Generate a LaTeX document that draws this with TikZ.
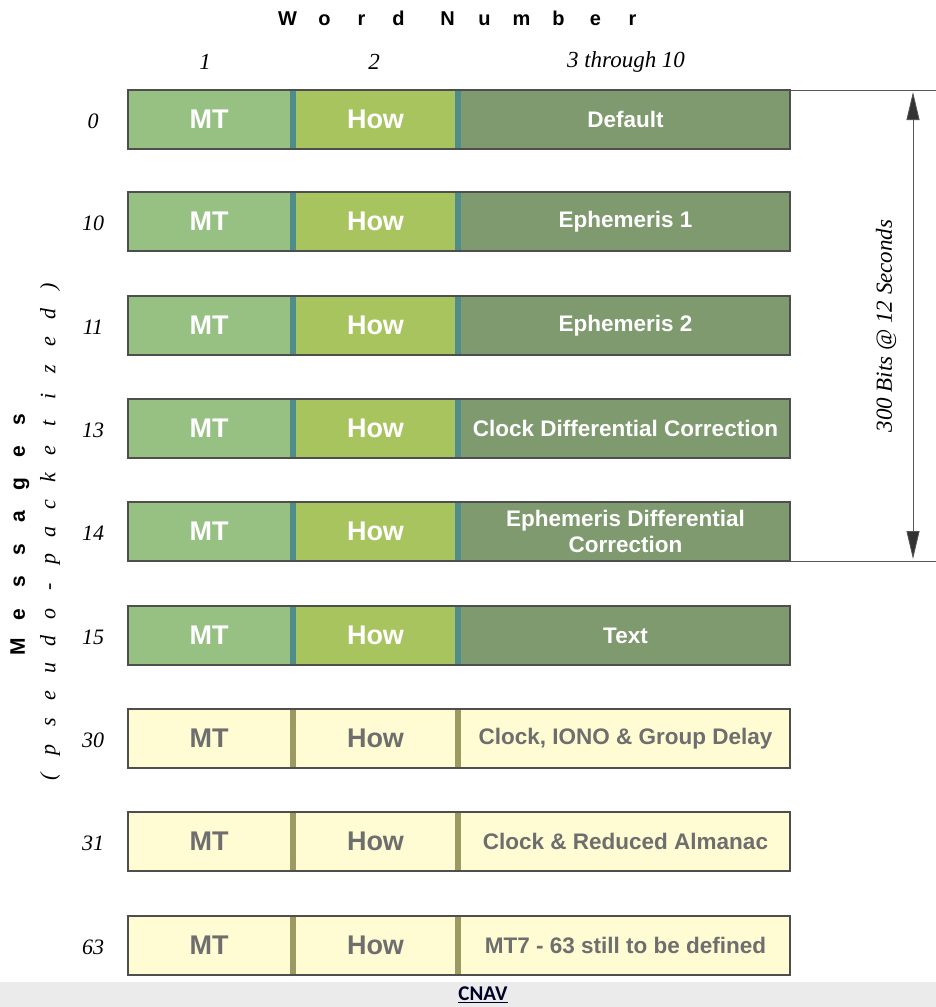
\documentclass[tikz,border=0pt]{standalone}
\usepackage{fontspec}
\setmainfont{Liberation Serif}
\newfontfamily\hv{Liberation Sans}
\newfontfamily\cb{Carlito}
\usetikzlibrary{arrows.meta}
\definecolor{hi-mt}{HTML}{97C183}
\definecolor{hi-how}{HTML}{A8C45E}
\definecolor{hi-body}{HTML}{7E9A6E}
\definecolor{hi-bar}{HTML}{4F8C8A}
\definecolor{hi-txt}{HTML}{FFFFFF}
\definecolor{lo-mt}{HTML}{FFFBD2}
\definecolor{lo-how}{HTML}{FFFBD2}
\definecolor{lo-body}{HTML}{FFFBD2}
\definecolor{lo-bar}{HTML}{9C9A62}
\definecolor{lo-txt}{HTML}{6E6E6E}
\definecolor{frame}{HTML}{4E4E4E}
\definecolor{dimline}{HTML}{555555}
\tikzset{
  cell/.style={anchor=north west, minimum height=59pt, inner sep=0pt, outer sep=0pt, draw=none, align=center},
  bigtxt/.style={font=\hv\bfseries\fontsize{27}{29}\selectfont},
  smalltxt/.style={font=\hv\bfseries\fontsize{22.5}{26}\selectfont},
  rownum/.style={font=\itshape\fontsize{22}{24}\selectfont},
  colhead/.style={font=\itshape\fontsize{23}{25}\selectfont},
  dimtxt/.style={font=\itshape\fontsize{23}{25}\selectfont, rotate=90},
}
\newcommand{\lw}[2]{\makebox[#1pt]{#2}}
\begin{document}
\begin{tikzpicture}[x=1pt,y=-1pt]
\useasboundingbox (0,0) rectangle (936,1007);
% bottom caption band
\fill[black!8] (0,982) rectangle (936,1007);
\node[font=\cb\bfseries\fontsize{21}{23}\selectfont, text=black!85!blue] (cnav) at (483,995) {\underline{CNAV}};
% title
\node[font=\hv\bfseries\fontsize{20}{22}\selectfont, inner sep=0pt] (title) at (460,18)
  {\lw{37}{W}\lw{37}{o}\lw{37}{r}\lw{37}{d}\hspace{12pt}\lw{37}{N}\lw{37}{u}\lw{37}{m}\lw{37}{b}\lw{37}{e}\lw{37}{r}};
\node[colhead] (h1) at (205,62) {1};
\node[colhead] (h2) at (374,62) {2};
\node[colhead] (h3) at (626,62) {3 through 10};
% side labels
\node[font=\hv\bfseries\fontsize{21}{23}\selectfont, rotate=90, inner sep=0pt] (msg) at (20,533)
  {\lw{32.5}{M}\lw{32.5}{e}\lw{32.5}{s}\lw{32.5}{s}\lw{32.5}{a}\lw{32.5}{g}\lw{32.5}{e}\lw{32.5}{s}};
\node[font=\itshape\fontsize{22}{24}\selectfont, rotate=90, inner sep=0pt] (pseudo) at (50,532)
  {\lw{27.2}{(}\lw{27.2}{p}\lw{27.2}{s}\lw{27.2}{e}\lw{27.2}{u}\lw{27.2}{d}\lw{27.2}{o}\lw{27.2}{-}\lw{27.2}{p}\lw{27.2}{a}\lw{27.2}{c}\lw{27.2}{k}\lw{27.2}{e}\lw{27.2}{t}\lw{27.2}{i}\lw{27.2}{z}\lw{27.2}{e}\lw{27.2}{d}\lw{27.2}{)}};
% rows
\foreach \n/\y/\t/\s in {0/90/{Default}/hi,10/192/{Ephemeris 1}/hi,11/296/{Ephemeris 2}/hi,13/399/{Clock Differential Correction}/hi,14/502/{Ephemeris Differential\\Correction}/hi,15/606/{Text}/hi,30/709/{Clock, IONO \& Group Delay}/lo,31/812/{Clock \& Reduced Almanac}/lo,63/916/{MT7 - 63 still to be defined}/lo}{
  \node[cell, fill=\s-mt, minimum width=162pt, bigtxt, text=\s-txt] (mt\n) at (128,\y) {MT};
  \node[cell, fill=\s-bar, minimum width=6pt] (barA\n) at (290,\y) {};
  \node[cell, fill=\s-how, minimum width=159pt, bigtxt, text=\s-txt] (how\n) at (296,\y) {How};
  \node[cell, fill=\s-bar, minimum width=6pt] (barB\n) at (455,\y) {};
  \node[cell, fill=\s-body, minimum width=329pt, smalltxt, text=\s-txt] (body\n) at (461,\y) {\t};
  \draw[frame, line width=1.3pt] (mt\n.north west) rectangle (body\n.south east);
  \node[rownum, anchor=center] (num\n) at (93,\y+31) {\n};
}
% dimension
\coordinate (dtop) at (936,90);
\coordinate (dbot) at (936,561);
\draw[dimline, line width=0.7pt] (body0.north east) -- (dtop);
\draw[dimline, line width=0.7pt] (body14.south east) -- (dbot);
\coordinate (atop) at (913,92);
\coordinate (abot) at (913,559);
\draw[dimline, line width=0.8pt, {Triangle[length=28pt,width=13pt,fill=black!80]}-{Triangle[length=28pt,width=13pt,fill=black!80]}] (atop) -- (abot);
\node[dimtxt] (dimlabel) at (886,326) {300 Bits @ 12 Seconds};
\end{tikzpicture}
\end{document}
